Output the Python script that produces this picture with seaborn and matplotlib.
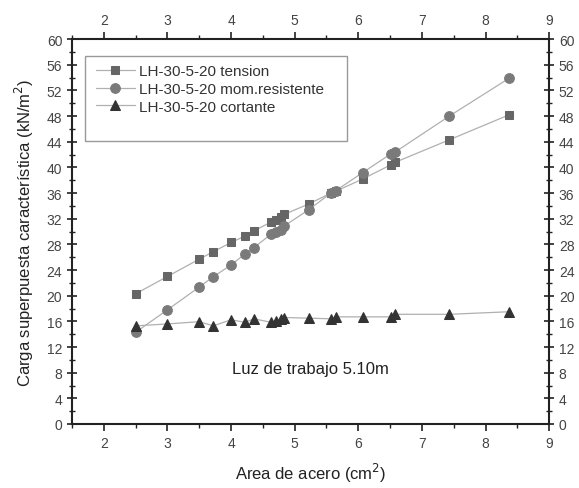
import matplotlib
matplotlib.use("Agg")
import matplotlib.pyplot as plt
from matplotlib.ticker import MultipleLocator
from matplotlib.patches import Rectangle
import seaborn as sns
import pandas as pd

area = [2.5, 3.0, 3.5, 3.72, 4.0, 4.22, 4.36, 4.63, 4.71, 4.78, 4.84, 5.22, 5.57, 5.65, 6.07, 6.51, 6.58, 7.43, 8.37]
tension = [20.3, 23.0, 25.7, 26.85, 28.3, 29.3, 30.1, 31.5, 31.8, 32.2, 32.7, 34.3, 36.0, 36.3, 38.2, 40.4, 40.8, 44.3, 48.2]
mom_resistente = [14.3, 17.8, 21.35, 22.95, 24.8, 26.5, 27.5, 29.6, 29.9, 30.3, 30.9, 33.4, 36.0, 36.4, 39.2, 42.1, 42.4, 48.0, 53.9]
cortante = [15.3, 15.6, 15.95, 15.3, 16.25, 15.85, 16.4, 15.85, 16.1, 16.35, 16.6, 16.5, 16.4, 16.7, 16.7, 16.7, 17.1, 17.1, 17.5]
labels = ["LH-30-5-20 tension", "LH-30-5-20 mom.resistente", "LH-30-5-20 cortante"]

sns.set_style("ticks")
plt.rcParams['font.family'] = ['Liberation Sans', 'DejaVu Sans']

fig = plt.figure(figsize=(5.79, 4.89), dpi=100)
ax = fig.add_axes([0.1244, 0.1309, 0.824, 0.787])

styles = [("s", "#666666", 5.5), ("o", "#7a7a7a", 7), ("^", "#333333", 7)]
for ys, lab, (m, c, ms) in zip([tension, mom_resistente, cortante], labels, styles):
    df = pd.DataFrame({"x": area, "y": ys})
    sns.lineplot(data=df, x="x", y="y", ax=ax, color="#b0b0b0", linewidth=0.9,
                 marker=m, markersize=ms, markerfacecolor=c, markeredgecolor=c,
                 label=lab)

ax.set_xlim(1.5, 9)
ax.set_ylim(0, 60)
ax.xaxis.set_major_locator(MultipleLocator(1))
ax.xaxis.set_minor_locator(MultipleLocator(0.5))
ax.yaxis.set_major_locator(MultipleLocator(4))
ax.yaxis.set_minor_locator(MultipleLocator(2))
ax.tick_params(axis="both", which="both", top=True, right=True, labeltop=True, labelright=True,
               labelsize=10, labelcolor="#444444", color="#222222")
ax.tick_params(axis="x", which="major", direction="out", length=5, width=1.2)
ax.tick_params(axis="x", which="minor", direction="out", length=3, width=1)
ax.tick_params(axis="y", which="major", direction="inout", length=7, width=1.2)
ax.tick_params(axis="y", which="minor", direction="inout", length=5, width=1)
for s in ax.spines.values():
    s.set_linewidth(1.5)
    s.set_color("#222222")

ax.set_xlabel("Area de acero (cm$^2$)", fontsize=12, color="#222222", labelpad=8)
ax.set_ylabel("Carga superpuesta característica (kN/m$^2$)", fontsize=12, color="#222222", labelpad=8)
ax.text(0.5, 0.145, "Luz de trabajo 5.10m", transform=ax.transAxes, ha="center", va="center",
        fontsize=12, color="#222222")

ax.add_patch(Rectangle((0.027, 0.735), 0.55, 0.221, transform=ax.transAxes, fill=False,
                       edgecolor="#999999", linewidth=1.0, zorder=5))
leg = ax.legend(loc="upper left", bbox_to_anchor=(0.05, 0.935), fontsize=11, frameon=False,
                handlelength=2.55, borderpad=0, borderaxespad=0,
                labelspacing=0.25, handletextpad=0.3)
for t in leg.get_texts():
    t.set_color("#333333")

fig.savefig("out.png", dpi=100)
